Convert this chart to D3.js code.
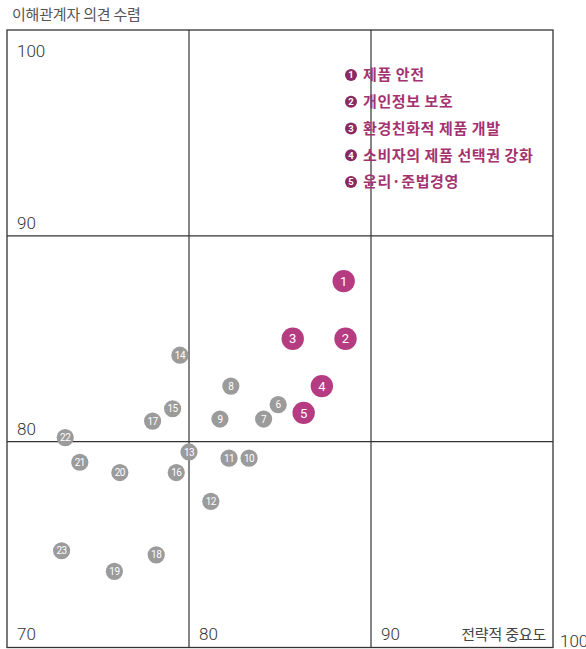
<!DOCTYPE html>
<html><head><meta charset="utf-8">
<script src="https://cdn.jsdelivr.net/npm/d3@7"></script>
<style>
html,body{margin:0;padding:0;background:#fff;}
svg{display:block;}
</style></head>
<body>
<svg id="chart" width="586" height="649"></svg>
<script>
// ---- data ----
const pointIds = [1,2,3,4,5,6,7,8,9,10,11,12,13,14,15,16,17,18,19,20,21,22,23];
const strategicImportance = [88.5,88.6,85.7,87.3,86.3,84.9,84.1,82.3,81.7,83.3,82.2,81.2,80.0,79.5,79.1,79.3,78.0,78.2,75.9,76.2,74.0,73.2,73.0];
const stakeholderOpinion  = [87.8,85.0,85.0,82.7,81.4,81.8,81.1,82.7,81.1,79.2,79.2,77.1,79.5,84.2,81.6,78.5,81.0,74.5,73.7,78.5,79.0,80.2,74.7];
const highlightedIds = [1,2,3,4,5];
const legendLabels = ["제품 안전","개인정보 보호","환경친화적 제품 개발","소비자의 제품 선택권 강화","윤리·준법경영"];
const xTicks = [70,80,90,100];
const yTicks = [80,90,100];
const gridX = [80,90];
const gridY = [80,90];
const yTitle = "이해관계자 의견 수렴";
const xTitle = "전략적 중요도";

// ---- drawing ----
const svg = d3.select("#chart");
const x = d3.scaleLinear().domain([70,100]).range([7,553]);
const y = d3.scaleLinear().domain([70,100]).range([647.5,30]);

const numFont = "Roboto, 'DejaVu Sans Condensed', sans-serif";
const korFont = "'Noto Sans CJK KR', 'Noto Sans', sans-serif";

// title
svg.append("text").attr("x",12).attr("y",20)
  .attr("font-family",korFont).attr("font-size",15).attr("letter-spacing",-0.2).attr("fill","#555")
  .text(yTitle);

// frame
svg.append("rect").attr("x",x(70)).attr("y",y(100))
  .attr("width",x(100)-x(70)).attr("height",y(70)-y(100))
  .attr("fill","none").attr("stroke","#333").attr("stroke-width",1.3);

// grid
svg.selectAll("line.gx").data(gridX).join("line").attr("class","gx")
  .attr("x1",d=>x(d)).attr("x2",d=>x(d)).attr("y1",y(100)).attr("y2",y(70))
  .attr("stroke","#333").attr("stroke-width",1.2);
svg.selectAll("line.gy").data(gridY).join("line").attr("class","gy")
  .attr("y1",d=>y(d)).attr("y2",d=>y(d)).attr("x1",x(70)).attr("x2",x(100))
  .attr("stroke","#333").attr("stroke-width",1.2);

// y tick labels
svg.selectAll("text.yt").data(yTicks).join("text").attr("class","yt")
  .attr("x",x(70)+10)
  .attr("y",d=> d===100 ? y(d)+27 : y(d)-7)
  .attr("font-family",numFont).attr("font-weight",300).attr("font-size",17).attr("fill","#333")
  .text(d=>d);

// x tick labels
svg.selectAll("text.xt").data(xTicks).join("text").attr("class","xt")
  .attr("x",d=> d===100 ? x(d)+7 : x(d)+10)
  .attr("y",d=> d===100 ? 647 : 640)
  .attr("font-family",numFont).attr("font-weight",300).attr("font-size",17).attr("fill","#333")
  .text(d=>d);

// x title
svg.append("text").attr("x",x(100)-7).attr("y",640).attr("text-anchor","end")
  .attr("font-family",korFont).attr("font-size",15).attr("letter-spacing",-0.2).attr("fill","#444")
  .text(xTitle);

// points
const pts = pointIds.map((id,i)=>({id, sx:strategicImportance[i], sy:stakeholderOpinion[i], hl: highlightedIds.includes(id)}));
const order = pts.slice().sort((a,b)=>(a.hl?1:0)-(b.hl?1:0));
const g = svg.selectAll("g.pt").data(order).join("g").attr("class","pt")
  .attr("transform",d=>`translate(${x(d.sx)},${y(d.sy)})`);
g.append("circle").attr("r",d=>d.hl?11.2:8.6)
  .attr("fill",d=>d.hl?"#b53c81":"#9b9b9b");
g.append("text").attr("text-anchor","middle")
  .attr("dy","0.36em")
  .attr("font-family",numFont)
  .attr("font-size",d=>d.hl?13:10)
  .attr("letter-spacing",d=>d.hl?0:-0.5)
  .attr("fill","#fff")
  .text(d=>d.id);

// legend
const legY = d3.scaleLinear().domain([0,4]).range([75,182]);
const lg = svg.selectAll("g.leg").data(legendLabels).join("g").attr("class","leg")
  .attr("transform",(d,i)=>`translate(351,${legY(i)})`);
lg.append("circle").attr("r",6).attr("fill","#8a2a62");
lg.append("text").attr("text-anchor","middle").attr("dy","0.36em")
  .attr("font-family",numFont).attr("font-weight",700).attr("font-size",9.5).attr("fill","#fff")
  .text((d,i)=>highlightedIds[i]);
lg.append("text").attr("x",12).attr("dy","0.36em")
  .attr("font-family",korFont).attr("font-weight",700).attr("font-size",15).attr("letter-spacing",0.6).attr("fill","#a3336f")
  .text(d=>d);
</script>
</body></html>
